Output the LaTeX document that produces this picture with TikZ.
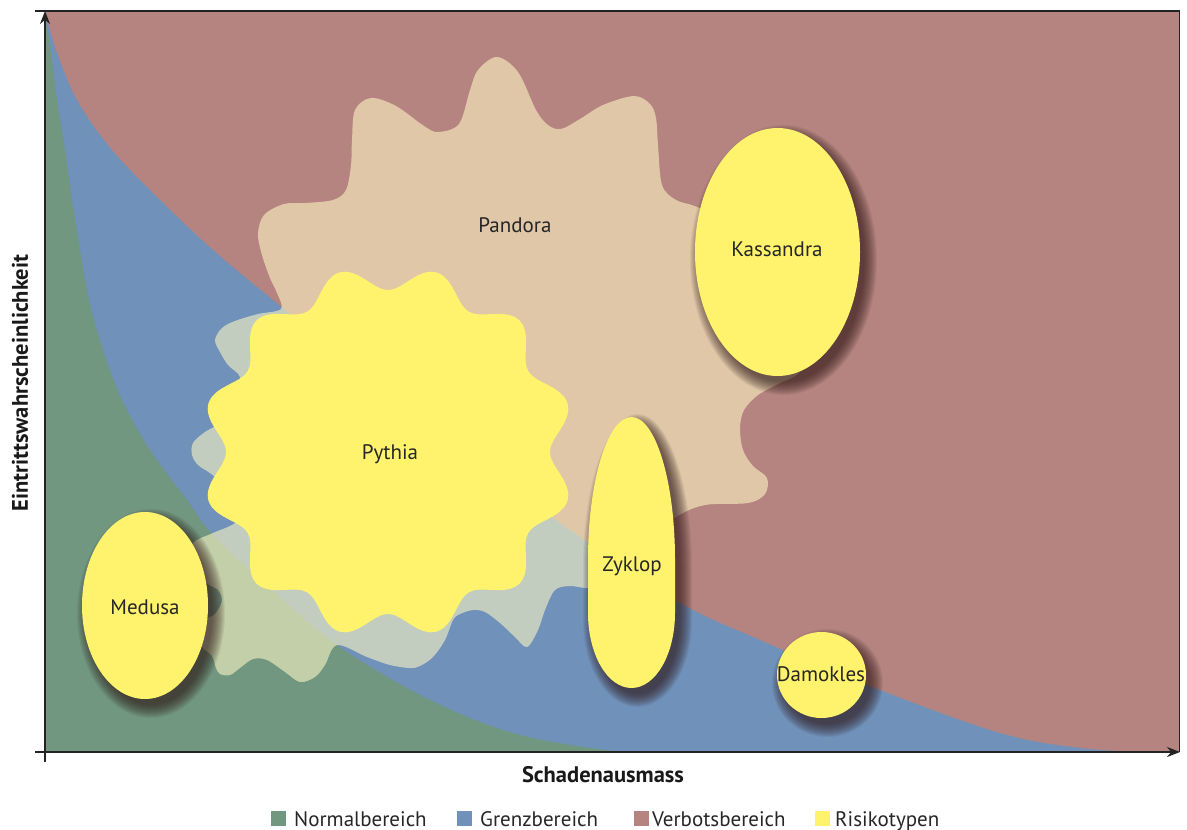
\documentclass[tikz,border=0pt]{standalone}
\usepackage{fontspec}
\setmainfont{PT Sans}
\usetikzlibrary{arrows.meta,shapes.geometric}
\definecolor{verbot}{RGB}{181,132,128}
\definecolor{grenz}{RGB}{112,145,185}
\definecolor{normal}{RGB}{113,151,128}
\definecolor{risiko}{RGB}{255,243,110}
\definecolor{blobc}{RGB}{255,249,197}
\definecolor{shadowc}{RGB}{45,22,22}
\definecolor{axisc}{RGB}{35,35,35}
\tikzset{
  lbl/.style={font=\fontsize{21}{25}\selectfont, text=black!85, inner sep=0pt},
  axislbl/.style={font=\bfseries\fontsize{22.5}{26}\selectfont, text=black!90, inner sep=0pt},
  legtxt/.style={font=\fontsize{21}{25}\selectfont, text=black!85, anchor=base west, inner sep=0pt},
  legsq/.style={minimum width=15pt, minimum height=15pt, inner sep=0pt, anchor=north west},
  axisline/.style={draw=axisc, line width=1.5pt},
  frameline/.style={draw=axisc, line width=1.3pt},
  risk/.style={ellipse, fill=risiko, inner sep=0pt},
}
\newcommand\softshadow[4]{%
  \foreach \k in {0,...,13}{%
    \fill[shadowc, opacity=0.065] (#1+6,#2+8) ellipse [x radius={#3+11-\k}, y radius={#4+11-\k}];
  }}
% egg shaped Zyklop outline: #1 dx, #2 dy, #3 growth
\newcommand\zykpath[3]{({588-(#3)+#1},{613+#2}) -- ({588-(#3)+#1},{560+#2}) arc[start angle=180,end angle=360,x radius={43.5+(#3)},y radius={143+(#3)}] -- ({675+(#3)+#1},{613+#2}) arc[start angle=0,end angle=180,x radius={43.5+(#3)},y radius={75+(#3)}] -- cycle}
\begin{document}
\begin{tikzpicture}[x=1pt,y=-1pt]
\useasboundingbox (0,0) rectangle (1187,830);
% regions
\fill[verbot] (45,11) rectangle (1179.5,752);
\fill[grenz] plot[smooth, tension=0.6] coordinates {(45,11) (56,50) (77,100) (112,150) (160,200) (213,250) (273,300) (335,350) (400,400) (475,460) (560,523) (675,600) (760,640) (880,690) (1000,733) (1080,748) (1145,752)} -- (45,752) -- cycle;
\fill[normal] plot[smooth, tension=0.6] coordinates {(45,11) (52,60) (57,100) (65,150) (72,200) (80,250) (89,300) (103,350) (122,400) (150,450) (187,500) (213,535) (270,588) (337,645) (430,700) (520,735) (620,752)} -- (45,752) -- cycle;
% translucent blob (Pandora and halo)
\fill[blobc, fill opacity=0.58] plot[smooth cycle, tension=0.55] coordinates {
(497,57) (518,72) (536,110) (548,125) (561,129) (580,119) (603,105) (634,96) (650,104) (656,118) (658,145) (662,185) (676,200) (697,207)
(745,230) (795,290) (812,345) (800,372) (778,384) (758,395) (744,410) (740,428) (743,450) (753,466) (767,478) (765,494) (748,503) (705,505) (676,517)
(640,545) (620,585) (588,588) (570,586) (555,590) (545,610) (538,630) (527,647) (515,637) (500,623) (485,612) (473,610) (460,614) (453,620) (445,640) (433,657) (420,666) (410,668) (390,665) (367,657) (337,645) (325,665) (315,677) (300,682) (285,672) (267,660) (253,659) (240,668) (230,675) (220,674) (216,668) (212,656) (203,648)
(196,635) (205,620) (215,614) (222,601) (218,590) (205,582)
(188,562) (193,543) (213,533) (235,523)
(250,505) (225,485) (210,473) (198,465) (192,455) (193,443) (205,432)
(228,418) (235,395) (240,377) (228,365) (220,352) (215,340) (222,328) (235,321) (258,314) (281,309)
(277,293) (270,278) (262,255) (258,234) (264,215) (284,204) (305,203) (333,200) (346,190) (351,165) (352,140) (355,110) (371,98) (396,106) (424,126) (438,132) (459,124) (470,90) (478,70)};
% shadows
\softshadow{145}{605.5}{63}{93.5}
\softshadow{777.5}{252}{82.5}{124}
\foreach \k in {0,...,13}{\pgfmathsetmacro\gr{11-\k}\fill[shadowc, opacity=0.065] \zykpath{6}{8}{\gr};}
\softshadow{821.5}{675}{44.5}{43}
% risk types
\node[risk, minimum width=126pt, minimum height=187pt] (medusa) at (145,605.5) {};
\node[risk, minimum width=165pt, minimum height=248pt] (kassandra) at (777.5,252) {};
\fill[risiko] \zykpath{0}{0}{0};
\node[risk, minimum width=89pt, minimum height=86pt] (damokles) at (821.5,675) {};
\fill[risiko] plot[domain=0:360, samples=241, smooth] ({388+(174+12*cos(12*(\x-15)))*cos(\x)}, {452-(174+12*cos(12*(\x-15)))*sin(\x)}) -- cycle;
% labels
\node[lbl] (lpandora) at (515,225) {Pandora};
\node[lbl] (lkassandra) at (777,249) {Kassandra};
\node[lbl] (lpythia) at (390,454) {Pythia};
\node[lbl] (lzyklop) at (632,566) {Zyklop};
\node[lbl] (lmedusa) at (145,607) {Medusa};
\node[lbl] (ldamokles) at (821,674.5) {Damokles};
% axes and frame
\coordinate (ybot) at (45,762);
\coordinate (ytop) at (45,11);
\coordinate (xl) at (35,752);
\coordinate (xr) at (1180,752);
\coordinate (tl) at (35,11);
\coordinate (tr) at (1179.5,11);
\coordinate (br) at (1179.5,752);
\draw[frameline] (tl) -- (tr) -- (br);
\draw[axisline, -{Stealth[length=13pt,width=10pt]}] (ybot) -- (ytop);
\draw[axisline, -{Stealth[length=13pt,width=10pt]}] (xl) -- (xr);
\node[axislbl, rotate=90] (ylab) at (20,383) {Eintrittswahrscheinlichkeit};
\node[axislbl] (xlab) at (603,775) {Schadenausmass};
% legend
\node[legsq, fill=normal] (sq1) at (271,811) {};
\node[legtxt] (lg1) at (294,826) {Normalbereich};
\node[legsq, fill=grenz] (sq2) at (457,811) {};
\node[legtxt] (lg2) at (480,826) {Grenzbereich};
\node[legsq, fill=verbot] (sq3) at (634,811) {};
\node[legtxt] (lg3) at (652,826) {Verbotsbereich};
\node[legsq, fill=risiko] (sq4) at (815,811) {};
\node[legtxt] (lg4) at (835,826) {Risikotypen};
\end{tikzpicture}
\end{document}
